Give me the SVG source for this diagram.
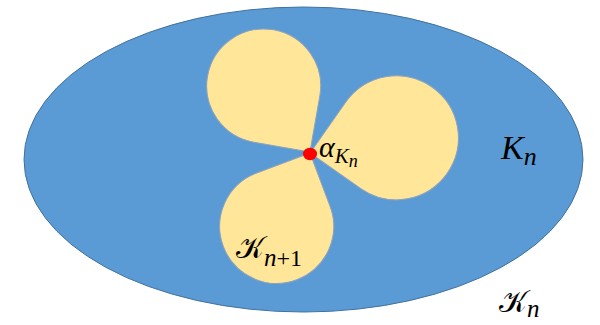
<svg xmlns="http://www.w3.org/2000/svg" width="600" height="325" viewBox="0 0 600 325">
<style>
.petal{fill:#FFE699;stroke:#8EA3BC;stroke-width:1}
.m{font-family:"Liberation Serif","DejaVu Serif",serif;font-style:italic;fill:#000}
.c{font-family:"DejaVu Serif","DejaVu Sans","Noto Sans",serif;fill:#000}
</style>
<rect width="600" height="325" fill="#fff"/>
<g id="outer">
<ellipse cx="303.5" cy="159.5" rx="279.5" ry="152.5" fill="#5B9BD5" stroke="#41719C" stroke-width="1"/>
</g>
<g id="petal-upper">
<path class="petal" d="M -57,0 A 57 57 0 0 1 0,-57 Q 28.5,-57 57,-57 Q 57,-28.5 57,0 A 57 57 0 0 1 0,57 A 57 57 0 0 1 -57,0 Z" transform="translate(263.7,86) rotate(100)"/>
</g>
<g id="petal-right">
<path class="petal" d="M -62,0 A 62 62 0 0 1 0,-62 Q 31,-62 62,-62 Q 62,-31 62,0 A 62 62 0 0 1 0,62 A 62 62 0 0 1 -62,0 Z" transform="translate(396.4,137.8) rotate(215)"/>
</g>
<g id="petal-lower">
<path class="petal" d="M -57,0 A 57 57 0 0 1 0,-57 Q 28.5,-57 57,-57 Q 57,-28.5 57,0 A 57 57 0 0 1 0,57 A 57 57 0 0 1 -57,0 Z" transform="translate(276.7,226.4) rotate(-20.6)"/>
</g>
<g id="point">
<ellipse cx="310" cy="154" rx="7" ry="6.2" fill="#FF0000"/>
</g>
<g id="labels">
<text class="m" x="319" y="157" font-size="30">α<tspan font-size="21" dy="6">K</tspan><tspan font-size="18" dy="4">n</tspan></text>
<text class="m" x="501" y="159" font-size="34">K<tspan font-size="26" dy="6">n</tspan></text>
<text x="499" y="312" font-size="30"><tspan class="c">𝒦</tspan><tspan class="m" font-size="25" dy="5">n</tspan></text>
<text x="236" y="258" font-size="30"><tspan class="c">𝒦</tspan><tspan class="m" font-size="25" dy="8">n</tspan><tspan font-family="Liberation Serif, serif" font-size="24">+1</tspan></text>
</g>
</svg>
